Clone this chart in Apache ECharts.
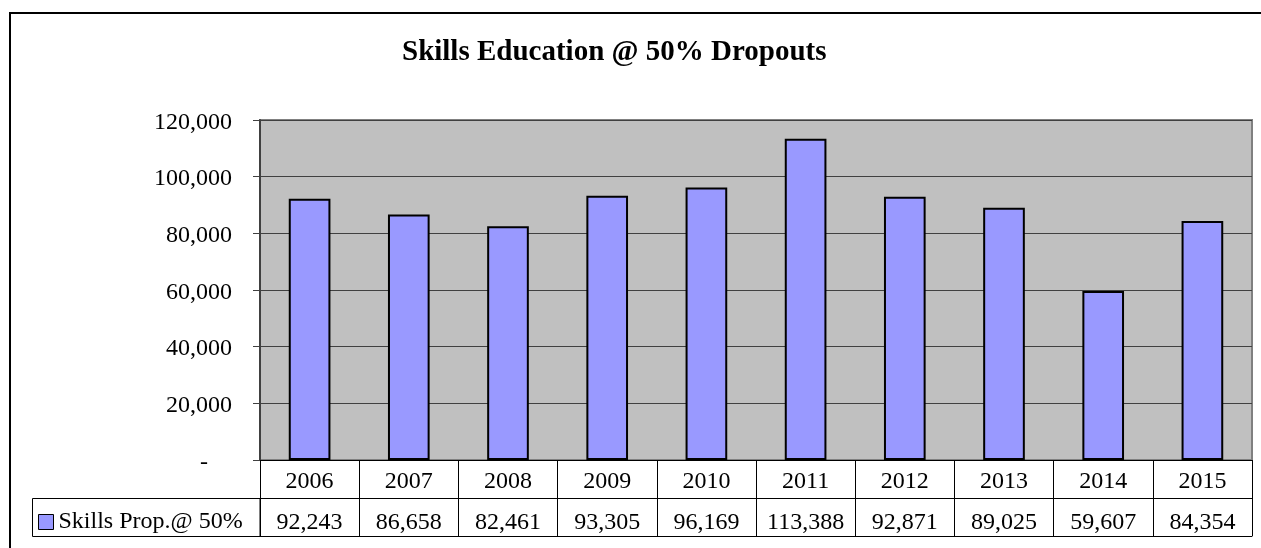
<!DOCTYPE html>
<html>
<head>
<meta charset="utf-8">
<style>
  html, body { margin: 0; padding: 0; background: #fff; }
  #chart { width: 1261px; height: 548px; }
</style>
<script src="https://cdn.jsdelivr.net/npm/echarts@6/dist/echarts.min.js"></script>
</head>
<body>
<div id="chart"></div>
<script>
// Chart data
const titleText = 'Skills Education @ 50% Dropouts';
const seriesName = 'Skills Prop.@ 50%';
const years = ['2006', '2007', '2008', '2009', '2010', '2011', '2012', '2013', '2014', '2015'];
const skillsValues = [92243, 86658, 82461, 93305, 96169, 113388, 92871, 89025, 59607, 84354];
const yTicks = [0, 20000, 40000, 60000, 80000, 100000, 120000];

const FONT = 'Liberation Serif, Times New Roman, serif';
const fmt = v => v.toLocaleString('en-US');

const chart = echarts.init(document.getElementById('chart'), null, { renderer: 'canvas' });

const gridLeft = 260, gridRight = 9, gridTop = 120, gridBottom = 88;

chart.setOption({
  animation: false,
  backgroundColor: '#ffffff',
  title: {
    text: titleText,
    left: 402,
    top: 38,
    padding: 0,
    textStyle: { fontFamily: FONT, fontSize: 29, fontWeight: 'bold', color: '#000' }
  },
  legend: {
    data: [seriesName],
    left: 38,
    top: 510,
    padding: 0,
    icon: 'rect',
    itemWidth: 15,
    itemHeight: 15,
    itemGap: 4,
    itemStyle: { borderColor: '#000', borderWidth: 1 },
    textStyle: { fontFamily: FONT, fontSize: 24, color: '#000' }
  },
  grid: {
    left: gridLeft, right: gridRight, top: gridTop, bottom: gridBottom,
    show: true,
    backgroundColor: '#C0C0C0',
    borderColor: '#808080',
    borderWidth: 2
  },
  xAxis: [
    {
      type: 'category',
      data: years,
      position: 'bottom',
      axisLine: { show: true, lineStyle: { color: '#000', width: 1 } },
      axisTick: { show: true, interval: 0, length: 76, lineStyle: { color: '#000', width: 1 } },
      axisLabel: { interval: 0, margin: 10, fontFamily: FONT, fontSize: 24, color: '#000' },
      splitLine: { show: false }
    },
    {
      type: 'category',
      data: years,
      position: 'bottom',
      offset: 38,
      axisLine: { show: true, lineStyle: { color: '#000', width: 1 } },
      axisTick: { show: false },
      axisLabel: {
        interval: 0, margin: 13, fontFamily: FONT, fontSize: 24, color: '#000',
        formatter: (v, i) => fmt(skillsValues[i])
      }
    },
    {
      type: 'category',
      data: years,
      position: 'bottom',
      offset: 76,
      axisLine: { show: true, lineStyle: { color: '#000', width: 1 } },
      axisTick: { show: false },
      axisLabel: { show: false }
    }
  ],
  yAxis: {
    type: 'value',
    min: yTicks[0],
    max: yTicks[yTicks.length - 1],
    interval: yTicks[1] - yTicks[0],
    axisLine: { show: true, lineStyle: { color: '#404040', width: 2 } },
    axisTick: { show: true, length: 7, inside: false, lineStyle: { color: '#404040', width: 1 } },
    axisLabel: {
      margin: 28,
      padding: [5, 0, 0, 0],
      fontFamily: FONT, fontSize: 24, color: '#000',
      formatter: v => v === 0 ? '{dash|-}' : fmt(v),
      rich: { dash: { fontFamily: FONT, fontSize: 24, color: '#000', padding: [0, 24, 0, 0] } }
    },
    splitLine: { show: true, lineStyle: { color: '#404040', width: 1 } }
  },
  graphic: [
    // outer chart frame
    { type: 'rect', shape: { x: 10, y: 13, width: 1400, height: 700 }, style: { fill: 'none', stroke: '#000', lineWidth: 2 }, silent: true, z: 100 },
    // legend cell of the data table
    { type: 'rect', shape: { x: 32.5, y: 498.5, width: 227.5, height: 38 }, style: { fill: 'none', stroke: '#000', lineWidth: 1 }, silent: true, z: 100 }
  ],
  series: [
    {
      name: seriesName,
      type: 'bar',
      xAxisIndex: 0,
      data: skillsValues,
      barWidth: '42%',
      itemStyle: { color: '#9999FF', borderColor: '#000', borderWidth: 2 }
    }
  ]
});
</script>
</body>
</html>
